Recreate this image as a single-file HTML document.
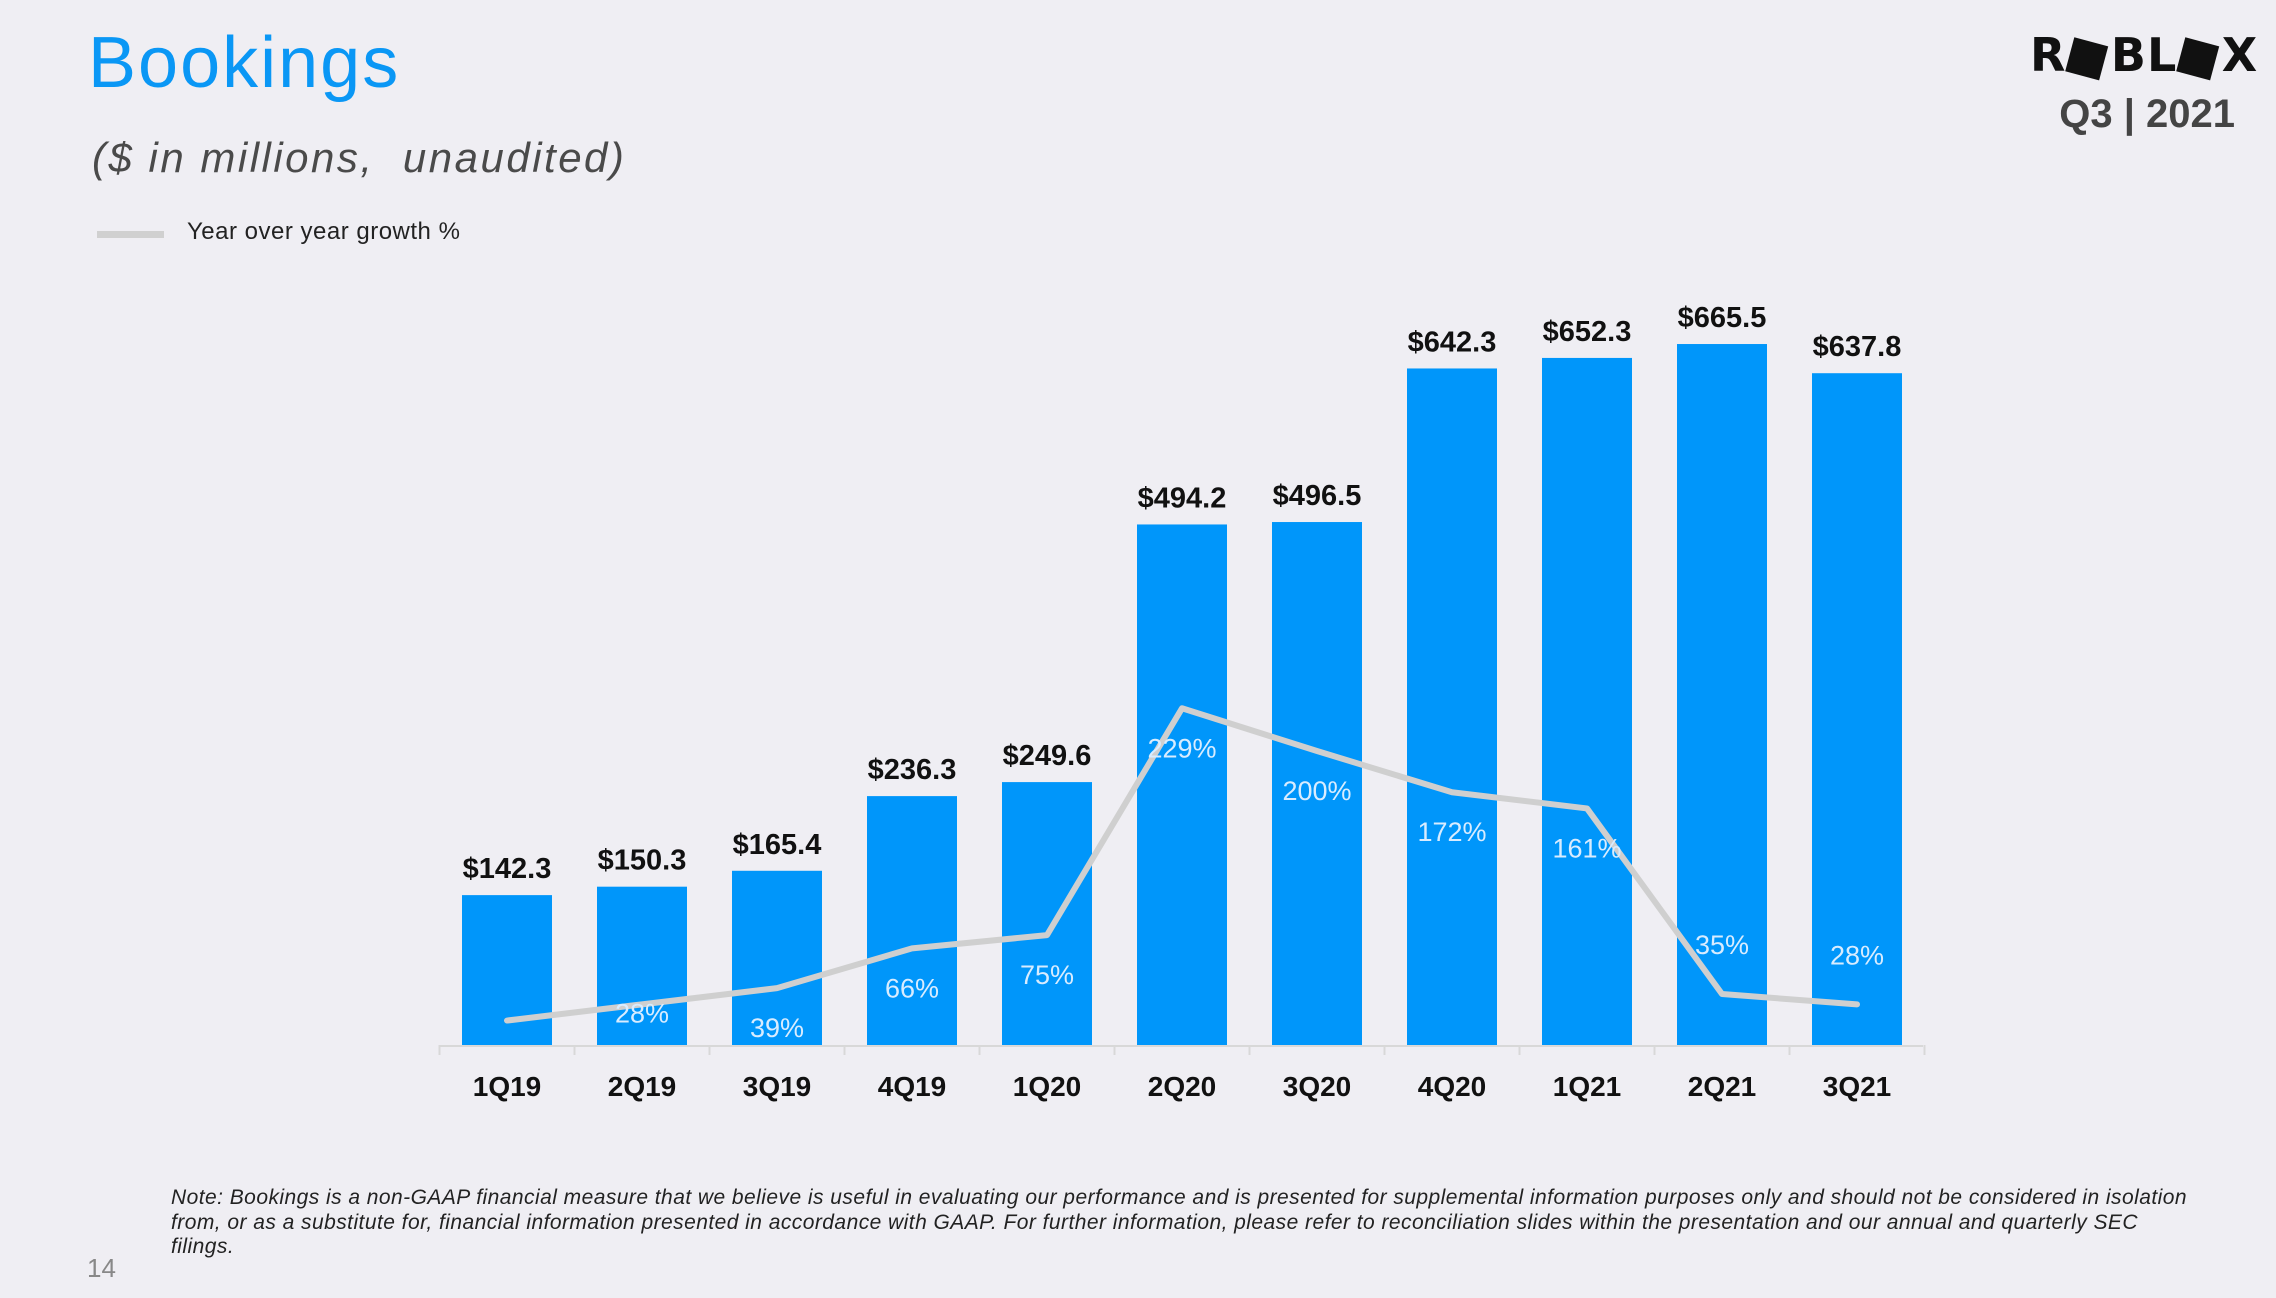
<!DOCTYPE html>
<html><head><meta charset="utf-8"><style>
html,body{margin:0;padding:0;background:#efeef3;}
body{width:2276px;height:1298px;position:relative;overflow:hidden;font-family:"Liberation Sans",sans-serif;}
.abs{position:absolute;}
</style></head><body>
<div class="abs" style="left:88px;top:22px;font-size:72px;letter-spacing:2px;color:#0a97f5;">Bookings</div>
<div class="abs" style="left:92px;top:134px;font-size:42px;letter-spacing:2.5px;font-style:italic;color:#4a4a4a;">($ in millions,&nbsp; unaudited)</div>
<div class="abs" style="left:97px;top:231px;width:67px;height:7px;background:#d0d0d0;"></div>
<div class="abs" style="left:187px;top:218px;font-size:24px;letter-spacing:0.5px;color:#222;">Year over year growth %</div>
<div class="abs" style="left:2030px;top:28px;font-size:46px;font-weight:bold;color:#111;letter-spacing:1px;font-family:'DejaVu Sans',sans-serif;">R<span style="display:inline-block;transform:rotate(15deg)">■</span>BL<span style="display:inline-block;transform:rotate(15deg)">■</span>X</div>
<div class="abs" style="right:41px;top:92px;font-size:40px;font-weight:bold;color:#444;">Q3 | 2021</div>
<svg class="abs" style="left:0;top:0" width="2276" height="1298" id="chart"></svg>
<div class="abs" style="left:171px;top:1186px;width:2020px;font-size:21px;letter-spacing:0.45px;line-height:24.7px;font-style:italic;color:#222;">Note: Bookings is a non-GAAP financial measure that we believe is useful in evaluating our performance and is presented for supplemental information purposes only and should not be considered in isolation from, or as a substitute for, financial information presented in accordance with GAAP. For further information, please refer to reconciliation slides within the presentation and our annual and quarterly SEC filings.</div>
<div class="abs" style="left:87px;top:1253px;font-size:26px;color:#888;">14</div>
<script>
const categories=["1Q19","2Q19","3Q19","4Q19","1Q20","2Q20","3Q20","4Q20","1Q21","2Q21","3Q21"];
const bookings=[142.3,150.3,165.4,236.3,249.6,494.2,496.5,642.3,652.3,665.5,637.8];
const bookingLabels=["$142.3","$150.3","$165.4","$236.3","$249.6","$494.2","$496.5","$642.3","$652.3","$665.5","$637.8"];
const growth=[17,28,39,66,75,229,200,172,161,35,28];
const growthLabels=["17%","28%","39%","66%","75%","229%","200%","172%","161%","35%","28%"];
const labelDy=[49,18,49,49,49,49,49,49,49,-40,-40];
const NS="http://www.w3.org/2000/svg";
const svg=document.getElementById('chart');
const x0=507,step=135,bw=90,base=1045;
const xS=i=>x0+i*step;
const yB=v=>base-v*1.0533;
const yG=v=>1045.6-v*1.473;
function mk(t,a){const e=document.createElementNS(NS,t);for(const k in a)e.setAttribute(k,a[k]);svg.appendChild(e);return e;}
let ax=mk('line',{x1:440,x2:1923,y1:base+1,y2:base+1,stroke:'#d8d8d8','stroke-width':2});


for(let i=0;i<=categories.length;i++){
 let t=mk('line',{x1:xS(i)-step/2,x2:xS(i)-step/2,y1:base,y2:base+10,stroke:'#d8d8d8','stroke-width':2});
 
 
}
categories.forEach((c,i)=>{
 const b=mk('rect',{x:xS(i)-bw/2,y:yB(bookings[i]),width:bw,height:base-yB(bookings[i]),fill:'#0096fa'});
 
 
 const l=mk('text',{x:xS(i),y:yB(bookings[i])-17,'text-anchor':'middle','font-size':29,'font-weight':'bold',fill:'#111','font-family':'Liberation Sans'});
 l.textContent=bookingLabels[i];
 
 
 const cl=mk('text',{x:xS(i),y:1096,'text-anchor':'middle','font-size':28,'font-weight':'bold',fill:'#111','font-family':'Liberation Sans'});
 cl.textContent=c;
 
 
});
const pts=growth.map((g,i)=>xS(i)+','+yG(g)).join(' ');
const pl=mk('polyline',{points:pts,fill:'none',stroke:'#cfcfcf','stroke-width':6,'stroke-linejoin':'round','stroke-linecap':'round'});


growth.forEach((g,i)=>{
 if(i===0)return;
 const t=mk('text',{x:xS(i),y:yG(g)+labelDy[i],'text-anchor':'middle','font-size':27,fill:'#d8ecff','font-family':'Liberation Sans'});
 t.textContent=growthLabels[i];
 
 
});
</script>
</body></html>
